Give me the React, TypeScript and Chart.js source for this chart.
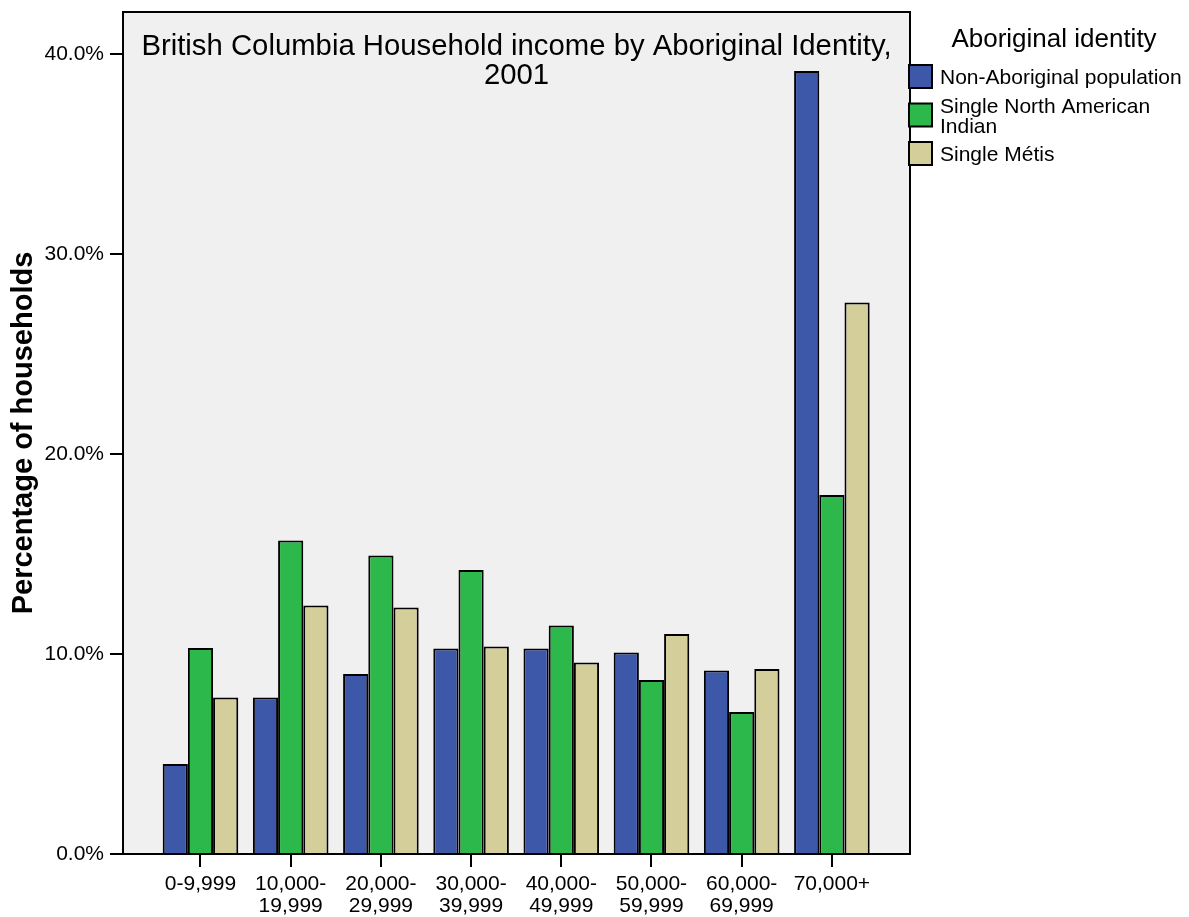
import React, { useEffect, useRef } from "react";
import { Chart, registerables } from "chart.js";

Chart.register(...registerables);

// ---- Data ----
const categories = [
  "0-9,999",
  "10,000-19,999",
  "20,000-29,999",
  "30,000-39,999",
  "40,000-49,999",
  "50,000-59,999",
  "60,000-69,999",
  "70,000+",
];
const xTickLabels: string[][] = [
  ["0-9,999"],
  ["10,000-", "19,999"],
  ["20,000-", "29,999"],
  ["30,000-", "39,999"],
  ["40,000-", "49,999"],
  ["50,000-", "59,999"],
  ["60,000-", "69,999"],
  ["70,000+"],
];
const seriesNames = [
  "Non-Aboriginal population",
  "Single North American Indian",
  "Single Métis",
];
const nonAboriginal = [4.5, 7.83, 9.0, 10.28, 10.28, 10.07, 9.18, 39.15];
const northAmericanIndian = [10.3, 15.67, 14.92, 14.2, 11.42, 8.7, 7.1, 17.95];
const metis = [7.82, 12.42, 12.32, 10.37, 9.57, 11.0, 9.25, 27.58];
const seriesColors = ["#3e58a9", "#2db84b", "#d4cf9a"];
const yTickValues = [0, 10, 20, 30, 40];

const chartTitle = ["British Columbia Household income by Aboriginal Identity,", "2001"];
const yAxisTitle = "Percentage of households";
const legendTitle = "Aboriginal identity";

const FONT = "'Liberation Sans', Arial, Helvetica, sans-serif";

const framePlugin = {
  id: "frame",
  beforeDraw(chart: any) {
    const { ctx, chartArea: a } = chart;
    ctx.save();
    ctx.fillStyle = "#f0f0f0";
    ctx.fillRect(a.left, a.top, a.right - a.left, a.bottom - a.top);
    ctx.restore();
  },
  afterDraw(chart: any) {
    const { ctx, chartArea: a } = chart;
    ctx.save();
    ctx.strokeStyle = "#000";
    ctx.lineWidth = 2;
    ctx.strokeRect(a.left, a.top, a.right - a.left, a.bottom - a.top);
    // chart title inside plot area
    ctx.fillStyle = "#000";
    ctx.font = `29.3px ${FONT}`;
    ctx.textAlign = "center";
    ctx.textBaseline = "alphabetic";
    const cx = (a.left + a.right) / 2;
    chartTitle.forEach((line, i) => ctx.fillText(line, cx, a.top + 43 + i * 29));

    // legend
    ctx.font = `26px ${FONT}`;
    ctx.textAlign = "center";
    ctx.fillText(legendTitle, 1054, 47);
    ctx.font = `21px ${FONT}`;
    ctx.textAlign = "left";
    const textX = 940;
    const maxW = 249;
    chart.data.datasets.forEach((ds: any, i: number) => {
      const cy = 76.5 + i * 38.5;
      ctx.fillStyle = ds.backgroundColor;
      ctx.fillRect(a.right - 1, cy - 11.5, 23, 23);
      ctx.strokeStyle = "#000";
      ctx.lineWidth = 2;
      ctx.strokeRect(a.right - 1, cy - 11.5, 23, 23);
      // wrap text
      const words = String(ds.label).split(" ");
      const lines: string[] = [];
      let cur = "";
      words.forEach((w) => {
        const t = cur ? cur + " " + w : w;
        if (ctx.measureText(t).width > maxW && cur) {
          lines.push(cur);
          cur = w;
        } else cur = t;
      });
      if (cur) lines.push(cur);
      ctx.fillStyle = "#000";
      const lh = 20;
      lines.forEach((ln, j) => {
        const mid = cy - ((lines.length - 1) * lh) / 2 + j * lh;
        ctx.fillText(ln, textX, mid + 7.5);
      });
    });
    ctx.restore();
  },
};

export default function App() {
  const ref = useRef<HTMLCanvasElement | null>(null);
  useEffect(() => {
    if (!ref.current) return;
    const values = [nonAboriginal, northAmericanIndian, metis];
    const chart = new Chart(ref.current, {
      type: "bar",
      data: {
        datasets: seriesNames.map((name, s) => ({
          label: name,
          data: values[s].map((v, i) => ({ x: i, y: v })),
          backgroundColor: seriesColors[s],
          borderColor: "#000",
          borderWidth: 2,
          borderSkipped: "bottom",
          categoryPercentage: 0.838,
          barPercentage: 1.0,
        })),
      },
      options: {
        responsive: false,
        animation: false,
        devicePixelRatio: 1,
        layout: { padding: { left: 0, right: 279, top: 12, bottom: 0 } },
        plugins: {
          legend: { display: false },
          title: { display: false },
          tooltip: { enabled: false },
        },
        scales: {
          x: {
            type: "linear",
            offset: false,
            min: -0.859,
            max: 7.866,
            afterBuildTicks: (scale: any) => {
              scale.ticks = categories.map((_, i) => ({ value: i }));
            },
            afterFit: (scale: any) => {
              scale.height = 63;
              scale.paddingLeft = 0;
              scale.paddingRight = 0;
            },
            grid: {
              display: true,
              offset: false,
              drawOnChartArea: false,
              drawTicks: true,
              tickLength: 13,
              color: "#000",
              tickColor: "#000",
              tickWidth: 2,
              lineWidth: 2,
            },
            border: { display: true, color: "#000", width: 2 },
            ticks: {
              autoSkip: false,
              maxRotation: 0,
              minRotation: 0,
              padding: 6,
              color: "#000",
              font: { family: FONT, size: 21, lineHeight: 1.05 },
              callback: (v: any) => xTickLabels[Math.round(Number(v))] ?? "",
            },
          },
          y: {
            min: 0,
            max: 42.1,
            afterBuildTicks: (scale: any) => {
              scale.ticks = yTickValues.map((v) => ({ value: v }));
            },
            afterFit: (scale: any) => {
              scale.width = 123;
              scale.paddingTop = 0;
              scale.paddingBottom = 0;
            },
            grid: {
              display: true,
              drawOnChartArea: false,
              drawTicks: true,
              tickLength: 13,
              color: "#000",
              tickColor: "#000",
              tickWidth: 2,
              lineWidth: 2,
            },
            border: { display: true, color: "#000", width: 2 },
            ticks: {
              padding: 6,
              color: "#000",
              font: { family: FONT, size: 21 },
              callback: (v: any) => Number(v).toFixed(1) + "%",
            },
            title: {
              display: true,
              text: yAxisTitle,
              color: "#000",
              font: { family: FONT, size: 29, weight: "bold" },
              padding: { top: 7, bottom: 0 },
            },
          },
        },
      } as any,
      plugins: [framePlugin],
    });
    return () => chart.destroy();
  }, []);
  return (
    <div style={{ position: "absolute", left: 0, top: 0, width: 1189, height: 917, background: "#fff" }}>
      <canvas ref={ref} width={1189} height={917} style={{ display: "block" }} />
    </div>
  );
}
